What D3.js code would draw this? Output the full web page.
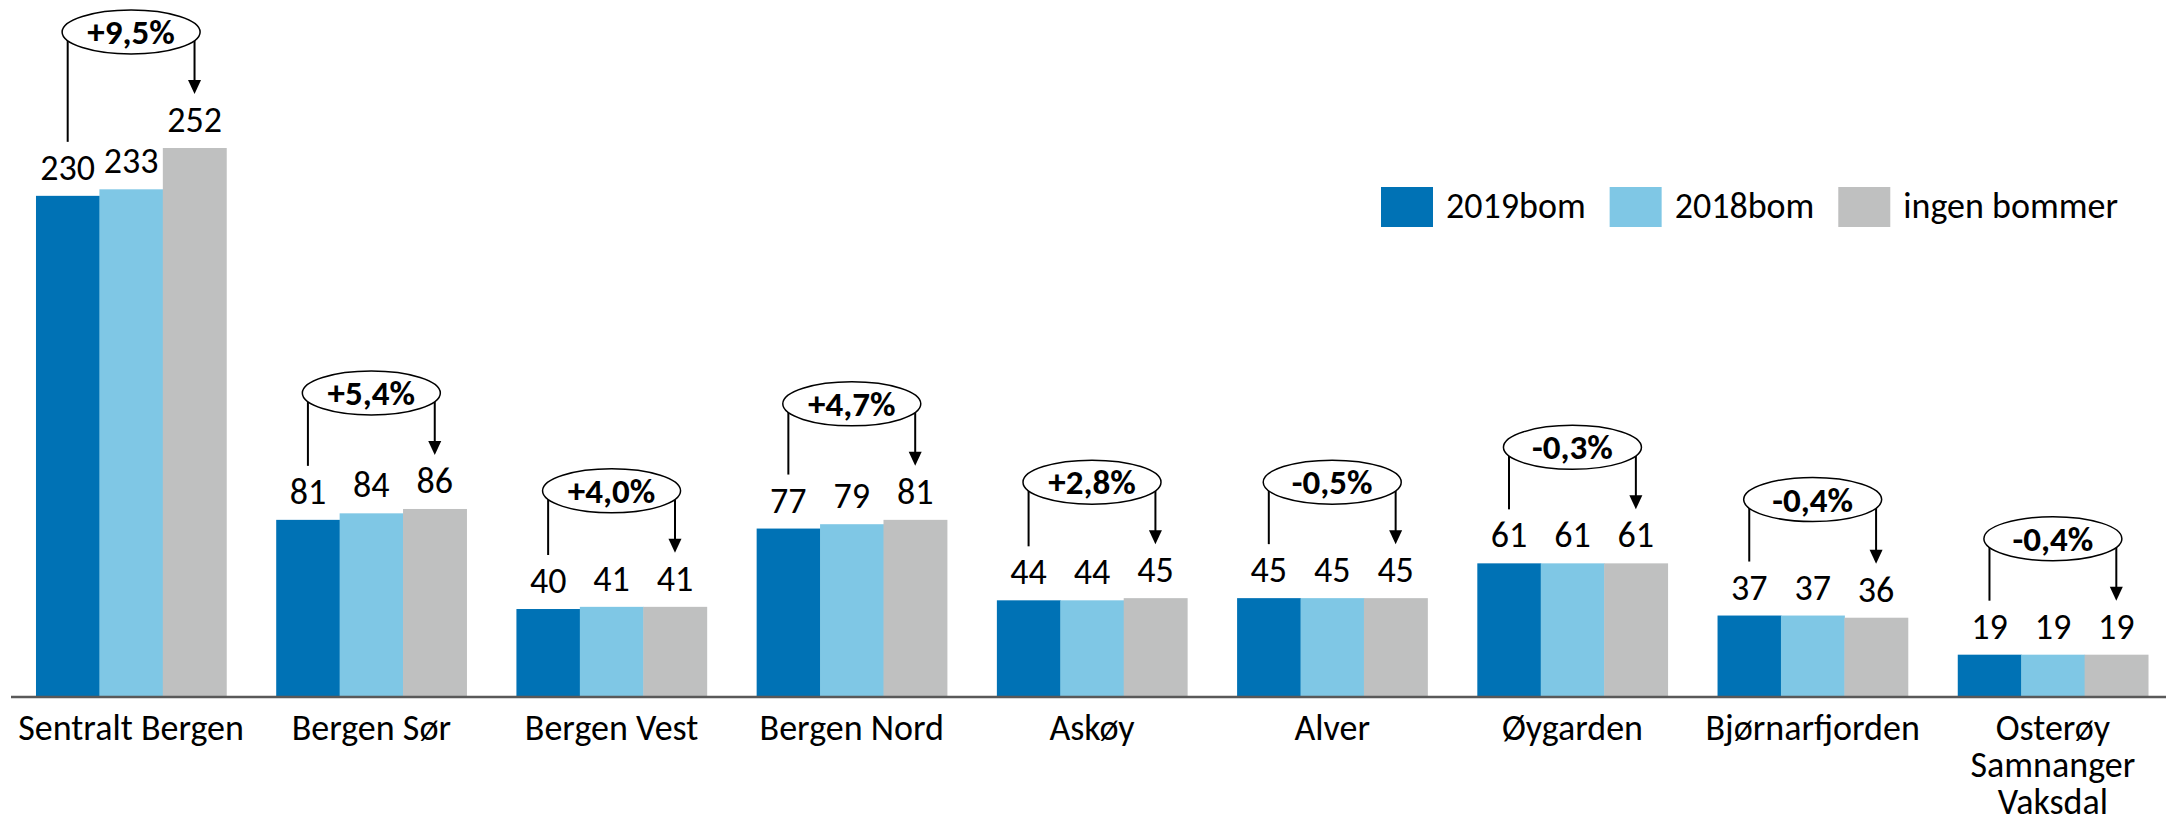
<!DOCTYPE html>
<html lang="no">
<head>
<meta charset="UTF-8">
<title>Bom-scenarier</title>
<script src="https://d3js.org/d3.v7.min.js"></script>
<style>
  body { margin: 0; background: #fff; }
  svg { display: block; font-family: Carlito, Calibri, Lato, sans-serif; }
</style>
</head>
<body>
<div id="chart"></div>
<script>
// data
const categories = ["Sentralt Bergen", "Bergen Sør", "Bergen Vest", "Bergen Nord", "Askøy",
                    "Alver", "Øygarden", "Bjørnarfjorden", "Osterøy\nSamnanger\nVaksdal"];
const series = ["2019bom", "2018bom", "ingen bommer"];
const v2019 = [230, 81, 40, 77, 44, 45, 61, 37, 19];
const v2018 = [233, 84, 41, 79, 44, 45, 61, 37, 19];
const vIngen = [252, 86, 41, 81, 45, 45, 61, 36, 19];
const changes = ["+9,5%", "+5,4%", "+4,0%", "+4,7%", "+2,8%", "-0,5%", "-0,3%", "-0,4%", "-0,4%"];
const colors = ["#0072B5", "#7FC7E5", "#BFC0C0"];

const W = 2166, H = 823;
const baseY = 696;

let svg = d3.select('#chart').append('svg')
    .attr('width', W).attr('height', H);

let x0 = d3.scaleBand().domain(categories).range([11, 2173])
    .paddingInner(0.208).paddingOuter(0.104);
let x1 = d3.scaleBand().domain(series).range([0, x0.bandwidth()]);
let y = d3.scaleLinear().domain([0, 252]).range([baseY, 148]);

let rows = categories.map((c, i) => ({
    cat: c, change: changes[i],
    vals: [v2019[i], v2018[i], vIngen[i]].map((v, j) => ({s: series[j], v: v, c: colors[j]}))
}));

let groups = svg.selectAll('.grp').data(rows).enter().append('g')
    .attr('class', 'grp')
    .attr('transform', d => 'translate(' + x0(d.cat) + ',0)');

// bars
groups.selectAll('rect').data(d => d.vals).enter().append('rect')
    .attr('x', d => x1(d.s))
    .attr('y', d => y(d.v))
    .attr('width', x1.bandwidth() + 0.5)
    .attr('height', d => baseY - y(d.v))
    .attr('fill', d => d.c);

// value labels
groups.selectAll('.val').data(d => d.vals).enter().append('text')
    .attr('class', 'val')
    .attr('x', d => x1(d.s) + x1.bandwidth() / 2)
    .attr('y', d => y(d.v) - 16)
    .attr('text-anchor', 'middle')
    .attr('font-size', 36)
    .attr('fill', '#000')
    .text(d => d.v);

// change annotations: line from first bar, arrow down to last bar
groups.each(function(d) {
    let g = d3.select(this);
    let maxV = d3.max(d.vals, e => e.v);
    let cy = y(maxV) - 116;
    let cx = x0.bandwidth() / 2;
    let xa = x1(series[0]) + x1.bandwidth() / 2;
    let xb = x1(series[2]) + x1.bandwidth() / 2;
    let ya = y(d.vals[0].v) - 54;
    let yb = y(d.vals[2].v) - 54;
    g.append('line')
        .attr('x1', xa).attr('x2', xa).attr('y1', cy).attr('y2', ya)
        .attr('stroke', '#000').attr('stroke-width', 2);
    g.append('line')
        .attr('x1', xb).attr('x2', xb).attr('y1', cy).attr('y2', yb - 12)
        .attr('stroke', '#000').attr('stroke-width', 2);
    g.append('path')
        .attr('d', 'M' + (xb - 6.5) + ',' + (yb - 14) + 'L' + (xb + 6.5) + ',' + (yb - 14) + 'L' + xb + ',' + yb + 'Z')
        .attr('fill', '#000');
    g.append('ellipse')
        .attr('cx', cx).attr('cy', cy).attr('rx', 69).attr('ry', 22)
        .attr('fill', '#fff').attr('stroke', '#000').attr('stroke-width', 1.5);
    g.append('text')
        .attr('x', cx).attr('y', cy + 12)
        .attr('text-anchor', 'middle')
        .attr('font-size', 35).attr('font-weight', 'bold')
        .text(d.change);
});

// axis line
svg.append('line')
    .attr('x1', 11).attr('x2', W).attr('y1', baseY + 1).attr('y2', baseY + 1)
    .attr('stroke', '#595959').attr('stroke-width', 2.5);

// category labels
let catLab = svg.selectAll('.cat').data(categories).enter().append('text')
    .attr('class', 'cat')
    .attr('text-anchor', 'middle')
    .attr('font-size', 36)
    .attr('y', 740);
catLab.selectAll('tspan').data(d => d.split('\n').map(t => ({t: t, c: d}))).enter().append('tspan')
    .attr('x', d => x0(d.c) + x0.bandwidth() / 2)
    .attr('dy', (d, i) => i == 0 ? 0 : 37)
    .text(d => d.t);

// legend
let lx = 1381;
series.forEach((s, i) => {
    svg.append('rect')
        .attr('x', lx).attr('y', 187).attr('width', 52).attr('height', 40)
        .attr('fill', colors[i]);
    let t = svg.append('text')
        .attr('x', lx + 65).attr('y', 218)
        .attr('font-size', 36)
        .text(s);
    lx += 65 + t.node().getComputedTextLength() + 24;
});
</script>
</body>
</html>
